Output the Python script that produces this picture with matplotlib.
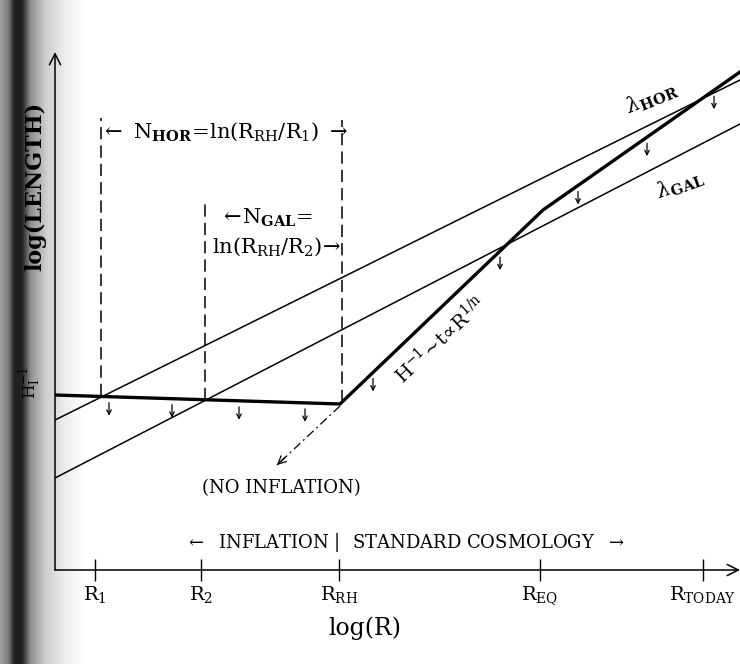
import matplotlib.pyplot as plt
import numpy as np

plt.rcParams['font.family'] = ['DejaVu Serif']
plt.rcParams['mathtext.fontset'] = 'dejavuserif'

# log(R) positions of the marked scale factors
tick_names = [r'$\mathrm{R_1}$', r'$\mathrm{R_2}$', r'$\mathrm{R_{RH}}$',
              r'$\mathrm{R_{EQ}}$', r'$\mathrm{R_{TODAY}}$']
tick_logr = [0.40, 1.46, 2.84, 4.85, 6.48]

# H^-1: almost flat during inflation, then rising (bend at R_EQ)
hubble_logr = [0.0, 2.85, 4.88, 6.85]
hubble_loglen = [1.75, 1.66, 3.60, 4.98]

# physical length scales (straight lines)
hor_logr = [0.0, 6.85]
hor_loglen = [1.50, 4.90]
gal_logr = [0.0, 6.85]
gal_loglen = [0.92, 4.46]

# dashed markers where the scales leave the horizon
cross_logr = [0.46, 1.50, 2.87]
cross_top = [4.52, 3.67, 4.50]

# small arrows below the H^-1 curve
arrow_logr = [0.54, 1.17, 1.84, 2.50, 3.18, 4.45, 5.23, 5.92, 6.59]

# "no inflation" continuation
noinf_logr = [2.85, 2.22]
noinf_loglen = [1.64, 1.05]

W, H = 740, 664
fig = plt.figure(figsize=(W / 100, H / 100), dpi=100)

# shadow of the book spine on the left of the scan
bg = fig.add_axes([0, 0, 1, 1])
bg.axis('off')
xs = np.arange(W)
prof = np.interp(xs, [0, 8, 14, 22, 30, 45, 65, 85],
                 [0.62, 0.48, 0.12, 0.14, 0.55, 0.8, 0.93, 1.0])
bg.imshow(np.tile(prof, (H, 1)), cmap='gray', vmin=0, vmax=1,
          aspect='auto', extent=[0, W, H, 0])
bg.set_xlim(0, W)
bg.set_ylim(H, 0)

ax = fig.add_axes([55 / W, (H - 570) / H, 685 / W, 518 / H])
ax.patch.set_alpha(0)
ax.set_xlim(0, 6.85)
ax.set_ylim(0, 5.18)
for s in ax.spines.values():
    s.set_visible(False)

# axes drawn as arrows
arr = dict(arrowstyle='->', lw=1.1, color='k', shrinkA=0, shrinkB=0, mutation_scale=20)
ax.annotate('', xy=(1, 0), xytext=(0, 0), xycoords='axes fraction', arrowprops=arr)
ax.annotate('', xy=(0, 1), xytext=(0, 0), xycoords='axes fraction', arrowprops=arr)

ax.set_xticks(tick_logr, tick_names)
ax.tick_params(axis='x', direction='inout', length=16, width=1, labelsize=14, pad=2)
ax.set_yticks([])

ax.text(3.10, -0.58, 'log(R)', fontsize=17, ha='center', va='center')
ax.text(-0.20, 3.84, 'log(LENGTH)', rotation=90, fontsize=16, fontweight='bold',
        ha='center', va='center', clip_on=False)
ax.text(-0.25, 1.87, r'$\mathrm{H_I^{-1}}$', rotation=90, fontsize=12,
        ha='center', va='center', clip_on=False)

# curves
ax.plot(hor_logr, hor_loglen, color='k', lw=1.1)
ax.plot(gal_logr, gal_loglen, color='k', lw=1.1)
ax.plot(hubble_logr, hubble_loglen, color='k', lw=2.4, solid_joinstyle='round')

for x, top in zip(cross_logr, cross_top):
    bottom = np.interp(x, hubble_logr, hubble_loglen)
    ax.plot([x, x], [bottom, top], color='k', lw=1.1, ls=(0, (8, 4)))

for x in arrow_logr:
    yc = np.interp(x, hubble_logr, hubble_loglen)
    ax.annotate('', xy=(x, yc - 0.19), xytext=(x, yc - 0.06),
                arrowprops=dict(arrowstyle='->', lw=0.9, color='k',
                                shrinkA=0, shrinkB=0, mutation_scale=8))

ax.plot(noinf_logr, noinf_loglen, color='k', lw=0.9, ls=(0, (7, 3, 1.5, 3)))
ax.annotate('', xy=(noinf_logr[1], noinf_loglen[1]),
            xytext=(noinf_logr[1] + 0.08, noinf_loglen[1] + 0.075),
            arrowprops=dict(arrowstyle='->', lw=0.9, color='k',
                            shrinkA=0, shrinkB=0, mutation_scale=14))

# annotations
ax.text(1.70, 4.38, r'$\leftarrow\ \mathrm{N_{\mathbf{HOR}}\!=\!ln(R_{RH}/R_1)}\ \rightarrow$',
        fontsize=15, ha='center', va='center')
ax.text(1.65, 3.52, r'$\leftarrow\!\mathrm{N_{\mathbf{GAL}}\!=}$', fontsize=15, ha='left', va='center')
ax.text(1.57, 3.23, r'$\mathrm{ln(R_{RH}/R_2)}\!\rightarrow$', fontsize=15, ha='left', va='center')
ax.text(2.26, 0.82, '(NO INFLATION)', fontsize=13, ha='center', va='center')
ax.text(2.75, 0.27, r'$\leftarrow$  INFLATION', fontsize=13, ha='right', va='center')
ax.text(2.82, 0.27, '|', fontsize=13, ha='center', va='center')
ax.text(2.97, 0.27, r'STANDARD COSMOLOGY  $\rightarrow$', fontsize=13, ha='left', va='center')
ax.text(3.85, 2.30, r'$\mathrm{H^{-1}\!\sim\! t \!\propto\! R^{1/n}}$', fontsize=14,
        rotation=43, ha='center', va='center')
ax.text(5.97, 4.72, r'$\lambda_{\mathbf{HOR}}$', fontsize=15, rotation=22, ha='center', va='center')
ax.text(6.25, 3.85, r'$\lambda_{\mathbf{GAL}}$', fontsize=15, rotation=20, ha='center', va='center')

fig.savefig('out.png', dpi=100)
